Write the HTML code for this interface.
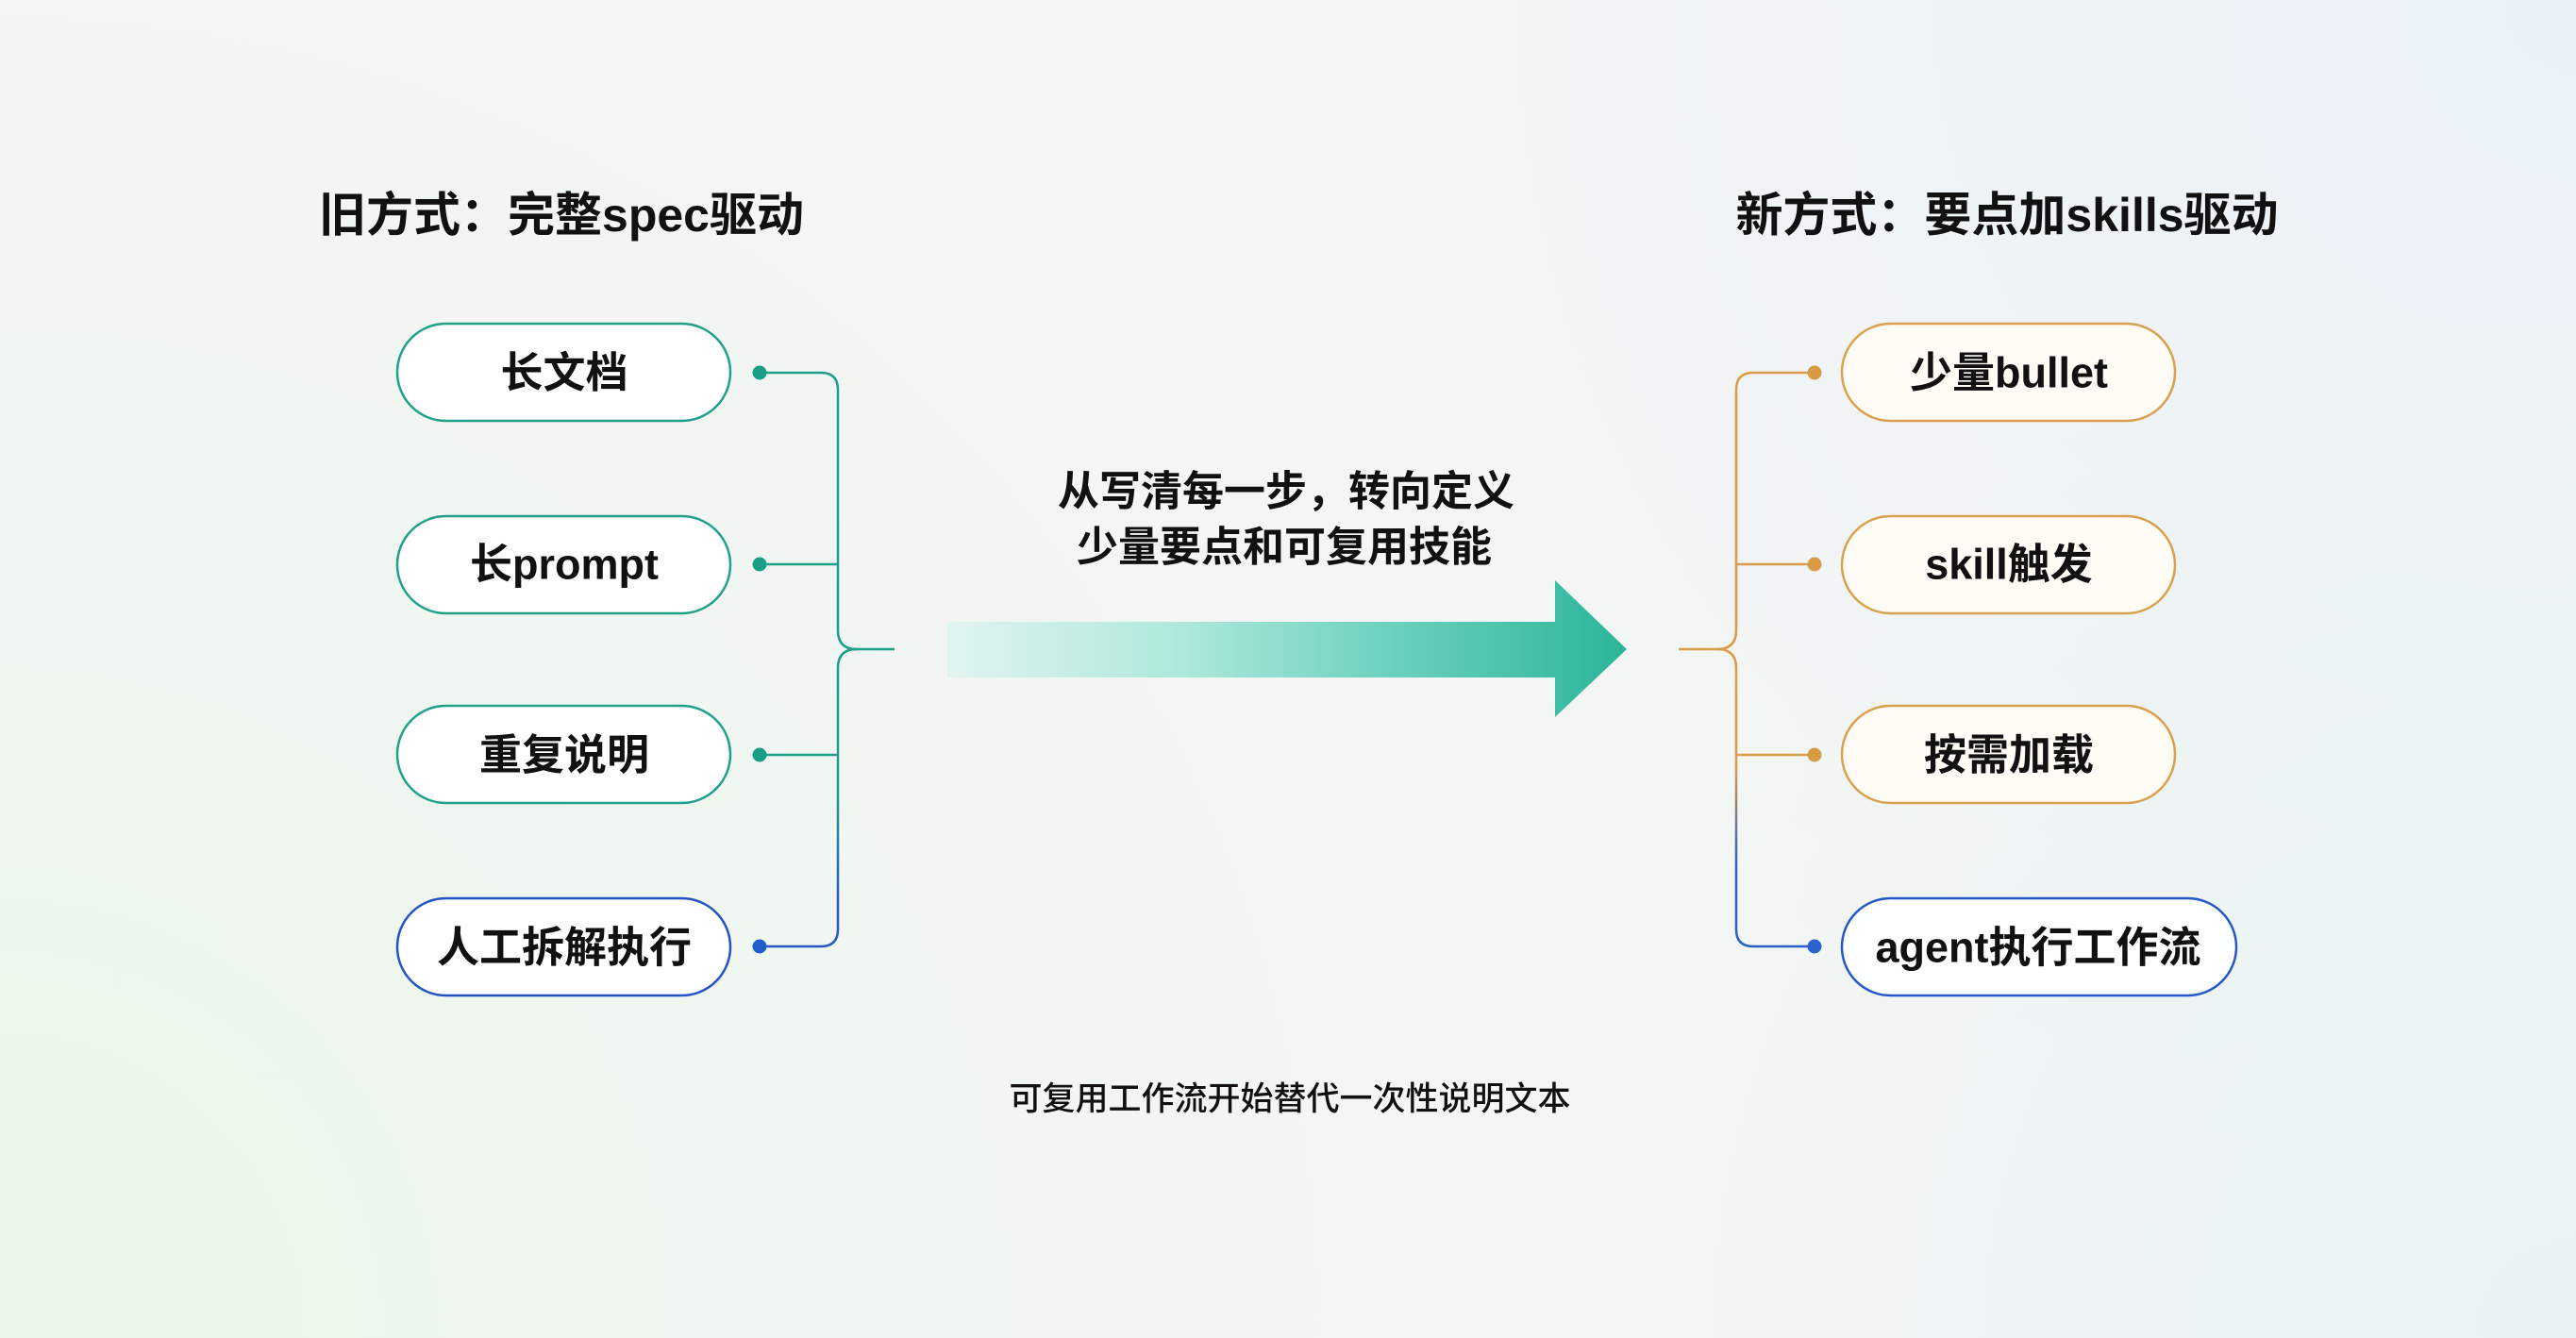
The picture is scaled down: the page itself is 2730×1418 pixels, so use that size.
<!DOCTYPE html>
<html><head><meta charset="utf-8">
<style>
html,body{margin:0;padding:0;width:2730px;height:1418px;overflow:hidden;}
body{background:#f2f5f4;}
svg{display:block;}
text{font-family:"Liberation Sans","Noto Sans CJK SC",sans-serif;fill:#111;}
</style></head>
<body>
<svg width="2730" height="1418" viewBox="0 0 2730 1418" xmlns="http://www.w3.org/2000/svg">
<defs>
  <radialGradient id="bgBL" cx="0" cy="1418" r="1500" gradientUnits="userSpaceOnUse">
    <stop offset="0" stop-color="#ebf7ea"/>
    <stop offset="1" stop-color="#ebf7ea" stop-opacity="0"/>
  </radialGradient>
  <radialGradient id="bgTR" cx="2730" cy="0" r="1300" gradientUnits="userSpaceOnUse">
    <stop offset="0" stop-color="#eaf1f8"/>
    <stop offset="1" stop-color="#eaf1f8" stop-opacity="0"/>
  </radialGradient>
  <radialGradient id="bgBR" cx="2730" cy="1418" r="1100" gradientUnits="userSpaceOnUse">
    <stop offset="0" stop-color="#e9f3f3"/>
    <stop offset="1" stop-color="#e9f3f3" stop-opacity="0"/>
  </radialGradient>
  <linearGradient id="arrowG" x1="1004" y1="0" x2="1724" y2="0" gradientUnits="userSpaceOnUse">
    <stop offset="0" stop-color="#e1f4f0"/>
    <stop offset="0.35" stop-color="#ace8dc"/>
    <stop offset="0.7" stop-color="#62cdb8"/>
    <stop offset="1" stop-color="#2bb598"/>
  </linearGradient>
  <linearGradient id="leftG" x1="0" y1="840" x2="0" y2="950" gradientUnits="userSpaceOnUse">
    <stop offset="0" stop-color="#1f9f89"/>
    <stop offset="1" stop-color="#2559c6"/>
  </linearGradient>
  <linearGradient id="rightG" x1="0" y1="815" x2="0" y2="915" gradientUnits="userSpaceOnUse">
    <stop offset="0" stop-color="#d99c48"/>
    <stop offset="1" stop-color="#2a5fc8"/>
  </linearGradient>
</defs>

<!-- background -->
<rect x="0" y="0" width="2730" height="1418" fill="#f3f6f4"/>
<rect x="0" y="0" width="2730" height="1418" fill="url(#bgBL)"/>
<rect x="0" y="0" width="2730" height="1418" fill="url(#bgTR)"/>
<rect x="0" y="0" width="2730" height="1418" fill="url(#bgBR)"/>

<!-- titles -->
<text x="595" y="228" font-size="50" font-weight="700" text-anchor="middle" dominant-baseline="central">旧方式：完整spec驱动</text>
<text x="2127" y="228" font-size="50" font-weight="700" text-anchor="middle" dominant-baseline="central">新方式：要点加skills驱动</text>

<!-- left pills -->
<g fill="#fdfefd" stroke-width="2.5">
  <rect x="421" y="343" width="353" height="103" rx="51.5" stroke="#22a08a"/>
  <rect x="421" y="547" width="353" height="103" rx="51.5" stroke="#22a08a"/>
  <rect x="421" y="748" width="353" height="103" rx="51.5" stroke="#22a08a"/>
  <rect x="421" y="952" width="353" height="103" rx="51.5" stroke="#2352c2"/>
</g>
<g font-size="45" font-weight="700" text-anchor="middle" dominant-baseline="central">
  <text x="598" y="395">长文档</text>
  <text x="598" y="598">长prompt</text>
  <text x="598" y="800">重复说明</text>
  <text x="598" y="1004">人工拆解执行</text>
</g>

<!-- left connectors -->
<g fill="none" stroke="url(#leftG)" stroke-width="2.5">
  <path d="M805 395 H870 Q888 395 888 413 V668 Q888 688 908 688 H948"/>
  <path d="M908 688 Q888 688 888 708 V985 Q888 1003 870 1003 H805"/>
  <path d="M805 598 H888"/>
  <path d="M805 800 H888"/>
</g>
<circle cx="805" cy="395" r="7.5" fill="#1a9e88"/>
<circle cx="805" cy="598" r="7.5" fill="#1a9e88"/>
<circle cx="805" cy="800" r="7.5" fill="#1a9e88"/>
<circle cx="805" cy="1003" r="7.5" fill="#1f5fcc"/>

<!-- center text -->
<g font-size="44" font-weight="700" text-anchor="middle" dominant-baseline="central">
  <text x="1363" y="521">从写清每一步，转向定义</text>
  <text x="1361" y="580">少量要点和可复用技能</text>
</g>

<!-- arrow -->
<polygon points="1004,659 1648,659 1648,615 1724,688 1648,760 1648,718 1004,718" fill="url(#arrowG)"/>

<!-- right pills -->
<g stroke-width="2.5">
  <rect x="1952" y="343" width="353" height="103" rx="51.5" fill="#fffcf6" stroke="#d9a04e"/>
  <rect x="1952" y="547" width="353" height="103" rx="51.5" fill="#fffcf6" stroke="#d9a04e"/>
  <rect x="1952" y="748" width="353" height="103" rx="51.5" fill="#fffcf6" stroke="#d9a04e"/>
  <rect x="1952" y="952" width="418" height="103" rx="51.5" fill="#fdfefe" stroke="#2458c8"/>
</g>
<g font-size="45" font-weight="700" text-anchor="middle" dominant-baseline="central">
  <text x="2129" y="395">少量bullet</text>
  <text x="2129" y="598">skill触发</text>
  <text x="2129" y="800">按需加载</text>
  <text x="2160" y="1004">agent执行工作流</text>
</g>

<!-- right connectors -->
<g fill="none" stroke="url(#rightG)" stroke-width="2.5">
  <path d="M1923 395 H1858 Q1840 395 1840 413 V668 Q1840 688 1820 688 H1779"/>
  <path d="M1820 688 Q1840 688 1840 708 V985 Q1840 1003 1858 1003 H1923"/>
  <path d="M1840 598 H1923"/>
  <path d="M1840 800 H1923"/>
</g>
<circle cx="1923" cy="395" r="7.5" fill="#d99a45"/>
<circle cx="1923" cy="598" r="7.5" fill="#d99a45"/>
<circle cx="1923" cy="800" r="7.5" fill="#d99a45"/>
<circle cx="1923" cy="1003" r="7.5" fill="#2a64cf"/>

<!-- bottom caption -->
<text x="1367" y="1165" font-size="35" font-weight="500" text-anchor="middle" dominant-baseline="central" fill="#1a1a1a">可复用工作流开始替代一次性说明文本</text>
</svg>
</body></html>
